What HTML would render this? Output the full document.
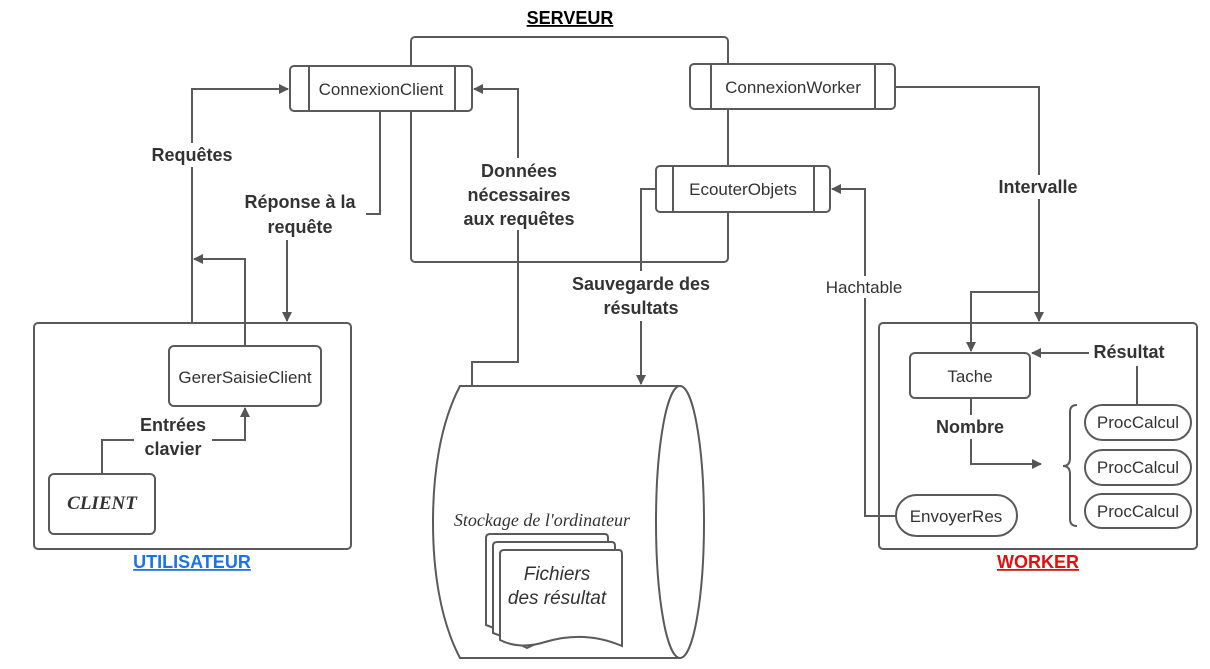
<!DOCTYPE html>
<html><head><meta charset="utf-8"><style>
html,body{margin:0;padding:0;background:#fff;}
svg{display:block;}
text{font-family:"Liberation Sans",sans-serif;fill:#333;}
.b{font-weight:bold;font-size:18px;}
.n{font-size:17px;}
</style></head><body>
<svg width="1210" height="669" viewBox="0 0 1210 669" xmlns="http://www.w3.org/2000/svg">
<defs>
<marker id="a" markerWidth="10" markerHeight="10" refX="9" refY="5" orient="auto" markerUnits="userSpaceOnUse">
<path d="M0,0 L10,5 L0,10 z" fill="#555"/></marker>
</defs>
<g fill="none" stroke="#5a5a5a" stroke-width="2">
<rect x="411" y="37" width="317" height="225" rx="4"/>
<rect x="34" y="323" width="317" height="226" rx="4"/>
<rect x="879" y="323" width="318" height="226" rx="4"/>
<path d="M192,323 V89 H288" marker-end="url(#a)"/>
<path d="M245,346 V259 H194" marker-end="url(#a)"/>
<path d="M380,111 V214 H287 V321" marker-end="url(#a)"/>
<path d="M472,386 V362 H518 V89 H474" marker-end="url(#a)"/>
<path d="M656,189 H641 V384" marker-end="url(#a)"/>
<path d="M896,516 H865 V189 H832" marker-end="url(#a)"/>
<path d="M895,87 H1039 V321" marker-end="url(#a)"/>
<path d="M1039,292 H971 V351" marker-end="url(#a)"/>
<path d="M1137,405 V366"/>
<path d="M1090,353 H1032" marker-end="url(#a)"/>
<path d="M971,398 V464 H1041" marker-end="url(#a)"/>
<path d="M102,474 V440 H245 V408" marker-end="url(#a)"/>
<path d="M1077,405 Q1070,405 1070,412 V458 Q1070,466 1063,466 Q1070,466 1070,474 V519 Q1070,526 1077,526"/>
</g>
<g fill="#fff">
<rect x="145" y="143" width="95" height="24"/>
<rect x="236" y="190" width="130" height="50"/>
<rect x="455" y="158" width="128" height="72"/>
<rect x="560" y="271" width="162" height="50"/>
<rect x="818" y="276" width="92" height="22"/>
<rect x="992" y="175" width="92" height="24"/>
<rect x="1089" y="341" width="82" height="24"/>
<rect x="930" y="415" width="80" height="24"/>
<rect x="134" y="413" width="78" height="48"/>
</g>
<g fill="#fff" stroke="#5a5a5a" stroke-width="2">
<rect x="290" y="66" width="182" height="45" rx="4"/>
<line x1="309" y1="66" x2="309" y2="111"/><line x1="455" y1="66" x2="455" y2="111"/>
<rect x="690" y="64" width="205" height="45" rx="4"/>
<line x1="711" y1="64" x2="711" y2="109"/><line x1="875" y1="64" x2="875" y2="109"/>
<rect x="656" y="166" width="174" height="46" rx="4"/>
<line x1="673" y1="166" x2="673" y2="212"/><line x1="814" y1="166" x2="814" y2="212"/>
<rect x="169" y="346" width="152" height="60" rx="5"/>
<rect x="49" y="474" width="106" height="60" rx="5"/>
<rect x="910" y="353" width="120" height="45" rx="5"/>
<rect x="1085" y="405" width="106" height="35" rx="17.5"/>
<rect x="1085" y="450" width="106" height="35" rx="17.5"/>
<rect x="1085" y="494" width="106" height="34" rx="17"/>
<rect x="896" y="495" width="121" height="41" rx="20.5"/>
<path d="M460,386 H680 V658 H460 C440,620 433,570 433,522 C433,474 440,424 460,386 Z"/>
<ellipse cx="680" cy="522" rx="24" ry="136"/>
<path d="M486,538 Q486,534 490,534 H605 Q608,534 608,538 V630 Q560,620 520,640 Q500,630 486,625 Z"/>
<path d="M493,546 Q493,542 497,542 H612 Q615,542 615,546 V638 Q567,628 527,648 Q507,638 493,633 Z"/>
<path d="M500,554 Q500,550 504,550 H619 Q622,550 622,554 V646 Q585,630 545,642 Q520,650 500,640 Z"/>
</g>
<text x="570" y="24" text-anchor="middle" class="b" style="fill:#000;text-decoration:underline">SERVEUR</text>
<g class="n" text-anchor="middle">
<text x="381" y="95">ConnexionClient</text>
<text x="793" y="93">ConnexionWorker</text>
<text x="743" y="195">EcouterObjets</text>
<text x="245" y="383">GererSaisieClient</text>
<text x="970" y="382">Tache</text>
<text x="1138" y="428">ProcCalcul</text>
<text x="1138" y="473">ProcCalcul</text>
<text x="1138" y="517">ProcCalcul</text>
<text x="956" y="522">EnvoyerRes</text>
<text x="864" y="293">Hachtable</text>
</g>
<g class="b" text-anchor="middle">
<text x="192" y="161">Requêtes</text>
<text x="300" y="208">Réponse à la</text><text x="300" y="233">requête</text>
<text x="519" y="177">Données</text><text x="519" y="201">nécessaires</text><text x="519" y="225">aux requêtes</text>
<text x="641" y="290">Sauvegarde des</text><text x="641" y="314">résultats</text>
<text x="1038" y="193">Intervalle</text>
<text x="1129" y="358">Résultat</text>
<text x="970" y="433">Nombre</text>
<text x="173" y="431">Entrées</text><text x="173" y="455">clavier</text>
</g>
<text x="102" y="509" text-anchor="middle" style="font-family:'Liberation Serif',serif;font-weight:bold;font-style:italic;font-size:19px">CLIENT</text>
<text x="192" y="568" text-anchor="middle" class="b" style="fill:#1a73e8;text-decoration:underline">UTILISATEUR</text>
<text x="1038" y="568" text-anchor="middle" class="b" style="fill:#e01010;text-decoration:underline">WORKER</text>
<text x="542" y="526" text-anchor="middle" style="font-family:'Liberation Serif',serif;font-style:italic;font-size:18px">Stockage de l'ordinateur</text>
<text x="557" y="580" text-anchor="middle" style="font-style:italic;font-size:19px">Fichiers</text>
<text x="557" y="604" text-anchor="middle" style="font-style:italic;font-size:19px">des résultat</text>
</svg>
</body></html>
